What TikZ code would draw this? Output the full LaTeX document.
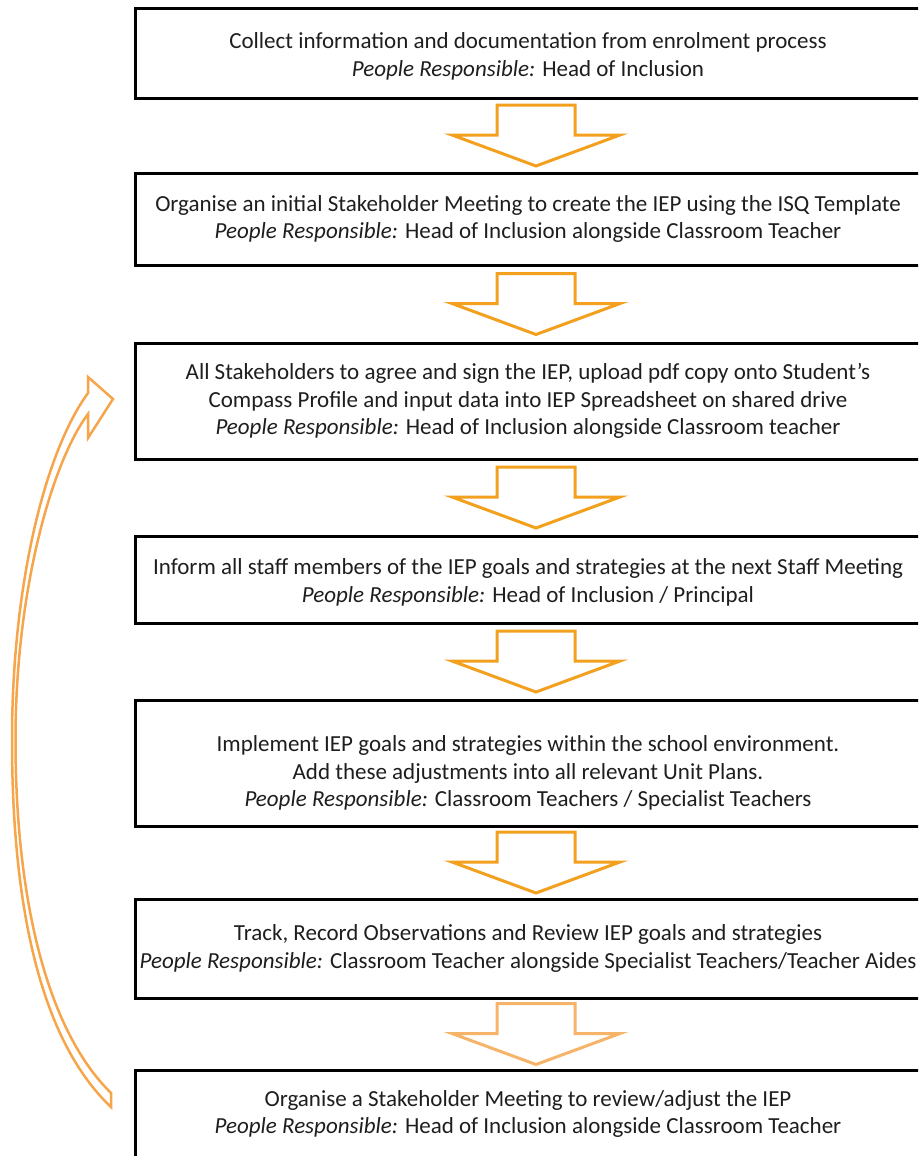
\documentclass[tikz,border=0pt]{standalone}
\usepackage{fontspec}
\setmainfont{Carlito}
\usetikzlibrary{calc,positioning}
\definecolor{arrorange}{RGB}{242,160,30}
\definecolor{arrlight}{RGB}{246,180,105}
\definecolor{loopcol}{RGB}{246,165,75}
\definecolor{txtgray}{RGB}{30,30,30}

\begin{document}
\begin{tikzpicture}[x=1pt,y=-1pt]
  \tikzstyle{stepbox} = [draw=black, line width=3pt, minimum width=786pt, inner sep=0pt, align=center, text=txtgray, font=\fontsize{23}{27.5}\selectfont]
  \tikzstyle{blockarrow} = [line width=3pt, fill=white, line join=miter]

  \useasboundingbox (0,0) rectangle (918,1156);
  \clip (0,0) rectangle (918,1156);

  \node[stepbox, minimum height=89pt] (collect) at (528,53.5) {\rule{0pt}{22pt}Collect information and documentation from enrolment process\\ \textit{People Responsible:} Head of Inclusion};
  \node[stepbox, minimum height=92pt] (organise) at (528,219) {Organise an initial Stakeholder Meeting to create the IEP using the ISQ Template\\ \textit{People Responsible:} Head of Inclusion alongside Classroom Teacher};
  \node[stepbox, minimum height=116pt] (agree) at (528,401) {All Stakeholders to agree and sign the IEP, upload pdf copy onto Student's\\ Compass Profile and input data into IEP Spreadsheet on shared drive\\ \textit{People Responsible:} Head of Inclusion alongside Classroom teacher};
  \node[stepbox, minimum height=87pt] (inform) at (528,579.5) {\rule{0pt}{22pt}Inform all staff members of the IEP goals and strategies at the next Staff Meeting\\ \textit{People Responsible:} Head of Inclusion / Principal};
  \node[stepbox, minimum height=126pt] (implement) at (528,763) {\rule{0pt}{36pt}Implement IEP goals and strategies within the school environment.\\ Add these adjustments into all relevant Unit Plans.\\ \textit{People Responsible:} Classroom Teachers / Specialist Teachers};
  \node[stepbox, minimum height=99pt] (track) at (528,948.5) {Track, Record Observations and Review IEP goals and strategies\\ \textit{People Responsible:} Classroom Teacher alongside Specialist Teachers/Teacher Aides};
  \node[stepbox, minimum height=88pt] (review) at (528,1114) {Organise a Stakeholder Meeting to review/adjust the IEP\\ \textit{People Responsible:} Head of Inclusion alongside Classroom Teacher};

  % block arrows between the steps
  \foreach \a/\b/\col in {collect/organise/arrorange, organise/agree/arrorange, agree/inform/arrorange, inform/implement/arrorange, implement/track/arrorange, track/review/arrlight}{
    \draw[blockarrow, draw=\col] ($(\a.south)!0.5!(\b.north)+(8,0)$) ++(-39,-30.5) -- ++(78,0) -- ++(0,30) -- ++(45,0) -- ++(-84,31) -- ++(-84,-31) -- ++(45,0) -- cycle;
  }

  % loop back from review to agree
  \draw[loopcol, line width=2.5pt, fill=white, line join=miter]
    (111,1107) .. controls (35,1035) and (12,890) .. (12,740) .. controls (12,585) and (45,452) .. (88,393)
    -- (88,377) -- (113,399) -- (88,438) -- (88,414)
    .. controls (52,462) and (15.5,590) .. (15.5,740) .. controls (15.5,885) and (42,1025) .. (111,1093) -- cycle;
\end{tikzpicture}
\end{document}
